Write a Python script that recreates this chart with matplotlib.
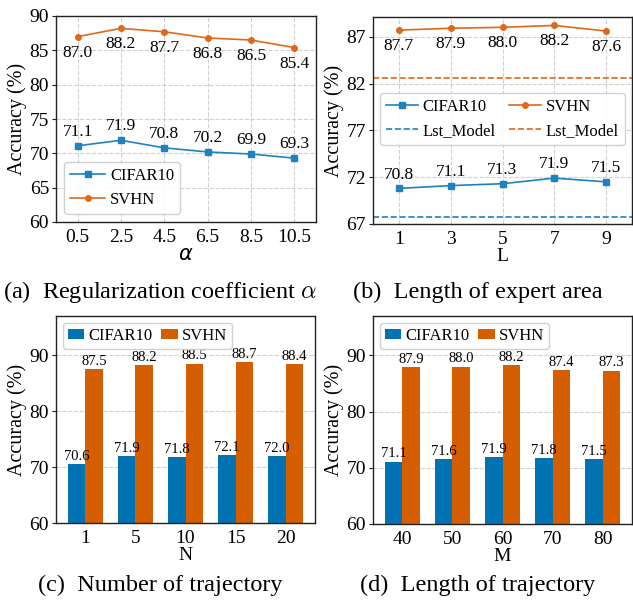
import numpy as np
import matplotlib
matplotlib.use('Agg')
import matplotlib.pyplot as plt

plt.rcParams['font.family'] = ['Liberation Serif', 'DejaVu Serif']
plt.rcParams['mathtext.fontset'] = 'dejavusans'

BLUE = '#0173b2'
ORANGE = '#d55e00'
LBLUE = '#1f82c0'
LORANGE = '#e0681a'

# (a) regularization coefficient
alpha_ticks = ['0.5', '2.5', '4.5', '6.5', '8.5', '10.5']
a_cifar = [71.1, 71.9, 70.8, 70.2, 69.9, 69.3]
a_svhn = [87.0, 88.2, 87.7, 86.8, 86.5, 85.4]

# (b) length of expert area
L_ticks = ['1', '3', '5', '7', '9']
b_cifar = [70.8, 71.1, 71.3, 71.9, 71.5]
b_svhn = [87.7, 87.9, 88.0, 88.2, 87.6]
b_lst_cifar = 67.8
b_lst_svhn = 82.6

# (c) number of trajectory
N_ticks = ['1', '5', '10', '15', '20']
c_cifar = [70.6, 71.9, 71.8, 72.1, 72.0]
c_svhn = [87.5, 88.2, 88.5, 88.7, 88.4]

# (d) length of trajectory
M_ticks = ['40', '50', '60', '70', '80']
d_cifar = [71.1, 71.6, 71.9, 71.8, 71.5]
d_svhn = [87.9, 88.0, 88.2, 87.4, 87.3]

W, H = 633, 601
fig = plt.figure(figsize=(W / 100, H / 100), dpi=100)


def box(l, t, r, b):
    return [l / W, 1 - b / H, (r - l) / W, (b - t) / H]


def style(ax, grid_x=True):
    for s in ax.spines.values():
        s.set_color('#222222')
        s.set_linewidth(1.0)
    ax.tick_params(axis='both', labelsize=14, length=3, width=0.8, color='#222222', pad=2)
    ax.tick_params(axis='x', length=0, pad=5)
    ax.grid(True, axis='y', ls='--', color='#d0d0d0', lw=0.8)
    if grid_x:
        ax.grid(True, axis='x', ls='--', color='#d0d0d0', lw=0.8)
    ax.set_axisbelow(True)
    ax.set_ylabel('Accuracy (%)', fontsize=14.5, labelpad=2)


def line_panel(ax, ticks, cifar, svhn, up, down):
    x = np.arange(len(ticks))
    ax.plot(x, cifar, color=LBLUE, marker='s', ms=5, lw=1.2, label='CIFAR10')
    ax.plot(x, svhn, color=LORANGE, marker='o', ms=4, lw=1.2, label='SVHN')
    for xi, v in zip(x, cifar):
        ax.annotate(f'{v:.1f}', (xi, v), xytext=(0, up), textcoords='offset points',
                    ha='center', va='center', fontsize=12.5)
    for xi, v in zip(x, svhn):
        ax.annotate(f'{v:.1f}', (xi, v), xytext=(0, down), textcoords='offset points',
                    ha='center', va='center', fontsize=12.5)
    ax.set_xticks(x)
    ax.set_xticklabels(ticks)
    ax.set_xlim(-0.5, len(ticks) - 0.5)


def bar_panel(ax, ticks, cifar, svhn, xlabel):
    x = np.arange(len(ticks))
    w = 0.35
    ax.bar(x - w / 2, cifar, w, color=BLUE, label='CIFAR10')
    ax.bar(x + w / 2, svhn, w, color=ORANGE, label='SVHN')
    for xi, v in zip(x, cifar):
        ax.text(xi - w / 2, v + 0.2, f'{v:.1f}', ha='center', va='bottom', fontsize=10.5)
    for xi, v in zip(x, svhn):
        ax.text(xi + w / 2, v + 0.2, f'{v:.1f}', ha='center', va='bottom', fontsize=10.5)
    ax.set_xticks(x)
    ax.set_xticklabels(ticks)
    ax.set_ylim(60, 97)
    ax.set_yticks([60, 70, 80, 90])
    ax.set_xlabel(xlabel, fontsize=14, labelpad=0)
    style(ax, grid_x=False)
    ax.legend(loc='upper left', ncol=2, fontsize=12, handlelength=1.0, handleheight=0.6,
              columnspacing=0.5, handletextpad=0.25, borderpad=0.3, borderaxespad=0.4,
              framealpha=0.9, edgecolor='#cccccc')


# (a)
ax = fig.add_axes(box(56, 16, 316, 222))
line_panel(ax, alpha_ticks, a_cifar, a_svhn, 10, -11.5)
ax.set_ylim(60, 90)
ax.set_yticks(np.arange(60, 91, 5))
ax.set_xlabel(r'$\alpha$', fontsize=15, labelpad=0)
style(ax)
ax.legend(loc='lower left', fontsize=12, handlelength=2.1, handletextpad=0.3,
          borderpad=0.35, borderaxespad=0.5, framealpha=0.9, edgecolor='#cccccc')

# (b)
ax = fig.add_axes(box(373, 17, 632, 224))
line_panel(ax, L_ticks, b_cifar, b_svhn, 10, -11.5)
ax.axhline(b_lst_cifar, color=LBLUE, ls='--', lw=1.2, label='Lst_Model')
ax.axhline(b_lst_svhn, color=LORANGE, ls='--', lw=1.2, label='Lst_Model')
ax.set_ylim(67, 89.1)
ax.set_yticks([67, 72, 77, 82, 87])
ax.set_xlabel('L', fontsize=14, labelpad=0)
style(ax)
h, l = ax.get_legend_handles_labels()
ax.legend([h[0], h[2], h[1], h[3]], [l[0], l[2], l[1], l[3]], ncol=2,
          loc='center', bbox_to_anchor=(0.5, 0.507), fontsize=12, handlelength=1.9,
          handletextpad=0.3, columnspacing=0.8, borderpad=0.35, framealpha=0.9,
          edgecolor='#cccccc')

# (c), (d)
bar_panel(fig.add_axes(box(56, 316, 315, 523)), N_ticks, c_cifar, c_svhn, 'N')
bar_panel(fig.add_axes(box(373, 316, 632, 524)), M_ticks, d_cifar, d_svhn, 'M')

cap = dict(ha='center', va='center', fontsize=17.5, math_fontfamily='cm')
fig.text(160 / W, 1 - 292 / H, r'(a)  Regularization coefficient $\alpha$', **cap)
fig.text(478 / W, 1 - 292 / H, '(b)  Length of expert area', **cap)
fig.text(160 / W, 1 - 585 / H, '(c)  Number of trajectory', **cap)
fig.text(478 / W, 1 - 585 / H, '(d)  Length of trajectory', **cap)

fig.savefig('out.png', dpi=100)
